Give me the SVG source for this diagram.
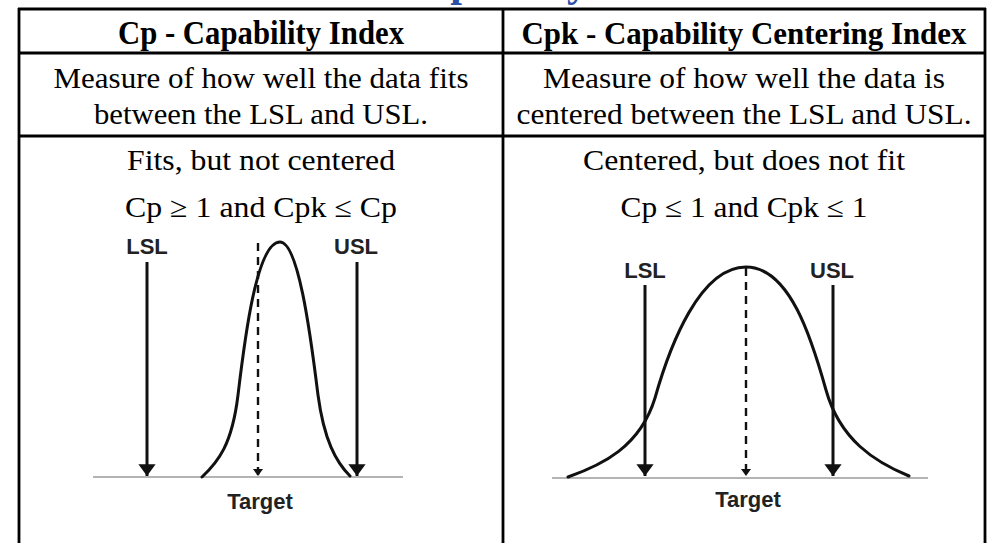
<svg xmlns="http://www.w3.org/2000/svg" width="989" height="543" viewBox="0 0 989 543">
<style>
.bd{stroke:#000;stroke-width:2.8;fill:none}
.hd{font-family:"Liberation Serif",serif;font-weight:bold;font-size:33px;fill:#000;text-anchor:middle}
.tx{font-family:"Liberation Serif",serif;font-size:29px;fill:#000;text-anchor:middle}
.lb{font-family:"Liberation Sans",Arial,sans-serif;font-weight:bold;font-size:22px;fill:#222;text-anchor:middle}
.ttl{font-family:"Liberation Serif",serif;font-weight:bold;font-size:42px;fill:#2b4ea6;text-anchor:end}
.ar{stroke:#111;stroke-width:3;fill:none}
.ds{stroke:#111;stroke-width:2.4;fill:none;stroke-dasharray:8 6}
.cv{stroke:#111;stroke-width:3;fill:none;stroke-linecap:round}
.gl{stroke:#b4b4b4;stroke-width:2.2}
</style>
<defs>
<marker id="ah" markerUnits="userSpaceOnUse" markerWidth="18" markerHeight="14" refX="8" refY="12" viewBox="0 0 16 13">
<path d="M0,1 L16,1 L8,12 Z" fill="#111"/>
</marker>
<marker id="ahs" markerUnits="userSpaceOnUse" markerWidth="10" markerHeight="9" refX="5" refY="8" viewBox="0 0 10 9">
<path d="M0,1 L10,1 L5,8 Z" fill="#111"/>
</marker>
</defs>
<g id="title">
<text class="ttl" x="588" y="-4">Process Capability</text>
</g>
<g id="table">
<line class="bd" x1="18" y1="9" x2="986" y2="9"/>
<line class="bd" x1="19" y1="8" x2="19" y2="543"/>
<line class="bd" x1="985" y1="8" x2="985" y2="543"/>
<line class="bd" x1="503" y1="8" x2="503" y2="543"/>
<line class="bd" x1="18" y1="53" x2="986" y2="53"/>
<line class="bd" x1="18" y1="136" x2="986" y2="136"/>
</g>
<g id="header-cp">
<text class="hd" x="261" y="44" textLength="286" lengthAdjust="spacingAndGlyphs">Cp - Capability Index</text>
</g>
<g id="header-cpk">
<text class="hd" x="744" y="44" style="font-size:31px" textLength="445" lengthAdjust="spacingAndGlyphs">Cpk - Capability Centering Index</text>
</g>
<g id="desc-cp">
<text class="tx" x="261" y="88" textLength="415" lengthAdjust="spacingAndGlyphs">Measure of how well the data fits</text>
<text class="tx" x="261" y="124" textLength="334" lengthAdjust="spacingAndGlyphs">between the LSL and USL.</text>
</g>
<g id="desc-cpk">
<text class="tx" x="744" y="88" textLength="402" lengthAdjust="spacingAndGlyphs">Measure of how well the data is</text>
<text class="tx" x="744" y="124" textLength="455" lengthAdjust="spacingAndGlyphs">centered between the LSL and USL.</text>
</g>
<g id="cond-cp">
<text class="tx" x="261" y="170" textLength="268" lengthAdjust="spacingAndGlyphs">Fits, but not centered</text>
<text class="tx" x="261" y="217" textLength="272" lengthAdjust="spacingAndGlyphs">Cp ≥ 1 and Cpk ≤ Cp</text>
</g>
<g id="cond-cpk">
<text class="tx" x="744" y="170" textLength="322" lengthAdjust="spacingAndGlyphs">Centered, but does not fit</text>
<text class="tx" x="744" y="217" textLength="247" lengthAdjust="spacingAndGlyphs">Cp ≤ 1 and Cpk ≤ 1</text>
</g>
<g id="chart-cp">
<line class="gl" x1="93" y1="477" x2="403" y2="477"/>
<text class="lb" x="147" y="254">LSL</text>
<text class="lb" x="356" y="254">USL</text>
<text class="lb" x="260" y="509">Target</text>
<path class="cv" d="M202,477 C218,462 232,445 238,395 C244,345 256,242 280,242 C298,242 310,330 318,395 C324,440 336,462 350,476"/>
</g>
<g id="chart-cpk">
<line class="gl" x1="552" y1="478" x2="928" y2="478"/>
<text class="lb" x="645" y="278">LSL</text>
<text class="lb" x="832" y="278">USL</text>
<text class="lb" x="748" y="507">Target</text>
<path class="cv" d="M568,477 C602,465 640,447 655,398 C670,345 700,267 746,267 C790,267 812,340 826,390 C840,440 875,462 909,476"/>
</g>
<g id="connectors">
<line class="ar" x1="147" y1="262" x2="147" y2="476" marker-end="url(#ah)"/>
<line class="ar" x1="357" y1="262" x2="357" y2="476" marker-end="url(#ah)"/>
<line class="ds" x1="258" y1="243" x2="258" y2="476" marker-end="url(#ahs)"/>
<line class="ar" x1="645" y1="285" x2="645" y2="476" marker-end="url(#ah)"/>
<line class="ar" x1="833" y1="285" x2="833" y2="476" marker-end="url(#ah)"/>
<line class="ds" x1="746" y1="268" x2="746" y2="476" marker-end="url(#ahs)"/>
</g>
</svg>
